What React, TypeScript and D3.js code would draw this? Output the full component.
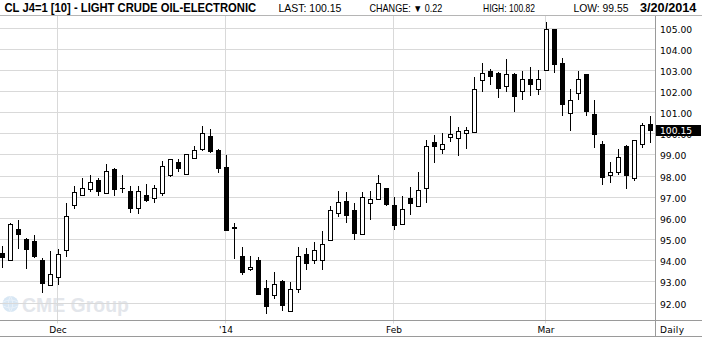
import React, { useLayoutEffect, useRef, useState } from "react";
import * as d3 from "d3";

// ---- data ----
const dates: string[] = [
  "2013-11-20","2013-11-21","2013-11-22","2013-11-25","2013-11-26","2013-11-27","2013-11-29",
  "2013-12-02","2013-12-03","2013-12-04","2013-12-05","2013-12-06","2013-12-09","2013-12-10",
  "2013-12-11","2013-12-12","2013-12-13","2013-12-16","2013-12-17","2013-12-18","2013-12-19",
  "2013-12-20","2013-12-23","2013-12-24","2013-12-26","2013-12-27","2013-12-30","2013-12-31",
  "2014-01-02","2014-01-03","2014-01-06","2014-01-07","2014-01-08","2014-01-09","2014-01-10",
  "2014-01-13","2014-01-14","2014-01-15","2014-01-16","2014-01-17","2014-01-21","2014-01-22",
  "2014-01-23","2014-01-24","2014-01-27","2014-01-28","2014-01-29","2014-01-30","2014-01-31",
  "2014-02-03","2014-02-04","2014-02-05","2014-02-06","2014-02-07","2014-02-10","2014-02-11",
  "2014-02-12","2014-02-13","2014-02-14","2014-02-18","2014-02-19","2014-02-20","2014-02-21",
  "2014-02-24","2014-02-25","2014-02-26","2014-02-27","2014-02-28","2014-03-03","2014-03-04",
  "2014-03-05","2014-03-06","2014-03-07","2014-03-10","2014-03-11","2014-03-12","2014-03-13",
  "2014-03-14","2014-03-17","2014-03-18","2014-03-19","2014-03-20",
];

const opens: number[] = [
  94.34,94.01,95.48,95.02,94.91,94.01,92.84,
  93.22,94.50,96.62,97.09,97.38,97.80,97.19,
  98.33,97.43,97.26,96.48,97.10,96.96,97.19,
  98.05,98.62,98.09,98.85,99.28,99.85,99.23,
  98.41,95.55,94.21,93.58,94.02,92.70,92.37,
  93.03,91.62,92.65,94.31,94.02,94.02,94.97,
  96.24,96.81,96.39,95.24,96.68,96.87,97.40,
  96.63,95.72,96.93,96.58,97.39,99.61,99.28,
  99.83,99.80,100.00,100.06,102.54,102.92,102.87,
  102.25,102.82,102.00,102.58,102.11,102.97,104.92,
  103.34,100.98,101.92,102.78,100.93,99.47,98.05,
  98.19,99.42,97.90,99.47,100.42,
];
const highs: number[] = [
  94.69,95.77,95.88,95.05,95.20,94.12,94.45,
  94.55,96.68,97.50,97.90,98.04,97.90,98.55,
  98.35,98.02,97.49,97.49,97.59,97.54,98.68,
  98.78,98.78,99.02,99.39,100.34,100.18,99.28,
  98.97,95.77,94.64,94.21,94.16,93.05,93.46,
  93.05,92.97,94.64,94.59,94.84,95.36,96.58,
  97.29,97.20,96.72,97.20,97.27,98.03,97.42,
  97.00,97.03,97.45,98.17,99.67,99.91,100.00,
  100.80,100.28,100.28,102.68,103.30,103.06,102.90,
  103.50,102.84,102.93,103.12,102.98,105.27,104.95,
  103.56,102.08,102.95,102.82,101.55,99.62,98.64,
  99.28,99.44,99.70,100.50,100.82,
];
const lows: number[] = [
  93.62,93.96,94.53,93.59,94.11,92.43,92.80,
  92.84,94.14,96.41,97.07,97.22,97.03,97.17,
  97.03,97.17,96.23,96.20,96.75,96.72,97.03,
  97.94,98.17,98.07,98.81,99.17,99.08,98.13,
  95.42,94.06,93.30,93.49,92.36,91.46,92.17,
  91.60,91.60,92.45,93.53,93.82,93.53,94.95,
  96.03,95.75,94.95,95.22,95.92,96.85,96.57,
  95.42,95.64,96.13,96.56,96.71,98.61,99.03,
  99.61,98.94,99.25,100.02,101.94,102.29,101.67,
  101.94,101.00,101.58,101.76,101.83,102.95,102.86,
  100.81,100.09,101.56,100.81,99.31,97.54,97.66,
  98.05,97.37,97.75,99.31,99.55,
];
const closes: number[] = [
  94.15,95.72,95.24,94.53,94.19,92.92,93.35,
  94.30,96.10,97.24,97.42,97.71,97.27,98.23,
  97.36,97.41,96.47,97.29,96.86,97.43,98.43,
  98.76,98.38,99.00,99.23,100.00,99.17,98.38,
  95.45,95.50,93.44,93.69,92.39,91.85,92.89,
  91.88,92.65,94.21,93.87,94.46,94.78,96.38,
  96.76,96.13,95.30,96.97,96.87,97.67,96.66,
  95.68,96.44,96.71,97.34,99.38,99.41,99.47,
  99.95,100.09,100.14,102.09,102.87,102.73,102.16,
  102.82,101.76,102.58,102.35,102.58,104.95,103.28,
  101.39,101.55,102.58,101.06,99.97,97.94,98.19,
  98.90,98.03,99.70,100.37,100.15,
];

const priceTicks: number[] = [92, 93, 94, 95, 96, 97, 98, 99, 100, 101, 102, 103, 104, 105];
const monthTickDates: string[] = ["2013-12-02", "2014-01-02", "2014-02-03", "2014-03-03"];
const monthTickLabels: string[] = ["Dec", "'14", "Feb", "Mar"];

const titleText = "CL J4=1 [10] - LIGHT CRUDE OIL-ELECTRONIC";
const lastValue = 100.15;
const changeValue = 0.22;
const highValue = 100.82;
const lowValue = 99.55;
const dateText = "3/20/2014";

// ---- layout ----
const W = 702;
const H = 337;
const plotTop = 16;
const plotBottom = 320.5;
const axisX = 655.5;

// Text squeezed horizontally to a target width (keeps the real bbox tight)
function FitText(props: {
  x: number;
  y: number;
  width: number;
  fontFamily: string;
  fontSize: number;
  fontWeight?: string;
  fill?: string;
  children: string;
}) {
  const ref = useRef<SVGTextElement>(null);
  const [sx, setSx] = useState(1);
  useLayoutEffect(() => {
    if (ref.current) {
      const w = ref.current.getComputedTextLength();
      if (w > 0) setSx(props.width / w);
    }
  }, [props.width, props.children]);
  return (
    <text
      ref={ref}
      transform={`translate(${props.x},${props.y}) scale(${sx},1)`}
      fontFamily={props.fontFamily}
      fontSize={props.fontSize}
      fontWeight={props.fontWeight || "normal"}
      fill={props.fill || "#000"}
    >
      {props.children}
    </text>
  );
}

export default function App() {
  const x = d3.scalePoint<string>().domain(dates).range([2, 650]).padding(0);
  const y = d3.scaleLinear().domain([92, 105]).range([302.5, 27.5]);

  const candles = dates.map((d, i) => ({
    d,
    o: opens[i],
    h: highs[i],
    l: lows[i],
    c: closes[i],
  }));

  const grid = "#d9d9d9";
  const axisCol = "#9a9a9a";
  const sans = "'Liberation Sans', Arial, sans-serif";
  const narrow = "'Liberation Sans Narrow', 'Arial Narrow', 'Liberation Sans', Arial, sans-serif";
  const axisFont = "'DejaVu Sans', Verdana, sans-serif";

  const lastY = Math.round(y(lastValue));

  return (
    <svg
      width={W}
      height={H}
      style={{ position: "absolute", left: 0, top: 0, background: "#fff" }}
    >
      <rect x={0} y={0} width={W} height={H} fill="#fff" />

      {/* watermark */}
      <g>
        <circle cx={10.5} cy={304} r={8} fill="#d8e7f4" />
        <path
          d="M3,302 Q10.5,298 18,302 M3,306 Q10.5,310 18,306 M10.5,296 Q6,304 10.5,312 M10.5,296 Q15,304 10.5,312"
          stroke="#e9f1f9"
          strokeWidth={1}
          fill="none"
        />
        <FitText x={22} y={312} width={107} fontFamily={sans} fontWeight="bold" fontSize={20} fill="#e3e6eb">
          CME Group
        </FitText>
      </g>

      {/* horizontal gridlines */}
      {priceTicks.map((p) => (
        <line
          key={"h" + p}
          x1={0}
          x2={axisX}
          y1={Math.round(y(p)) + 0.5}
          y2={Math.round(y(p)) + 0.5}
          stroke={grid}
          strokeWidth={1}
        />
      ))}

      {/* vertical month gridlines */}
      {monthTickDates.map((d) => (
        <line
          key={"v" + d}
          x1={Math.round(x(d)!) - 0.5}
          x2={Math.round(x(d)!) - 0.5}
          y1={plotTop}
          y2={plotBottom + 3}
          stroke={grid}
          strokeWidth={1}
        />
      ))}

      {/* candles */}
      {candles.map((k) => {
        const cx = Math.round(x(k.d)!);
        const yTop = Math.round(y(Math.max(k.o, k.c)));
        const yBot = Math.round(y(Math.min(k.o, k.c)));
        const up = k.c >= k.o;
        return (
          <g key={k.d}>
            <line
              x1={cx + 0.5}
              x2={cx + 0.5}
              y1={Math.round(y(k.h))}
              y2={Math.round(y(k.l))}
              stroke="#000"
              strokeWidth={1}
            />
            <rect
              x={cx - 1.5}
              y={yTop + 0.5}
              width={4}
              height={Math.max(yBot - yTop, 0.01)}
              fill={up ? "#fff" : "#000"}
              stroke="#000"
              strokeWidth={1}
            />
          </g>
        );
      })}

      {/* header */}
      <line x1={0} x2={W} y1={15.5} y2={15.5} stroke="#b5b5b5" strokeWidth={1} />
      <FitText x={4.5} y={12} width={252} fontFamily={narrow} fontWeight="bold" fontSize={13}>
        {titleText}
      </FitText>
      <FitText x={278.5} y={11.5} width={63} fontFamily={sans} fontSize={10}>
        {"LAST: " + lastValue.toFixed(2)}
      </FitText>
      <FitText x={369.5} y={11.5} width={73} fontFamily={sans} fontSize={10}>
        {"CHANGE: \u25BC " + changeValue.toFixed(2)}
      </FitText>
      <FitText x={483} y={11.5} width={52} fontFamily={sans} fontSize={10}>
        {"HIGH: " + highValue.toFixed(2)}
      </FitText>
      <FitText x={573.5} y={11.5} width={55} fontFamily={sans} fontSize={10}>
        {"LOW: " + lowValue.toFixed(2)}
      </FitText>
      <FitText x={640} y={12} width={56.5} fontFamily={narrow} fontWeight="bold" fontSize={13}>
        {dateText}
      </FitText>

      {/* axes frame */}
      <line x1={axisX} x2={axisX} y1={plotTop} y2={H} stroke={axisCol} strokeWidth={1} />
      <line x1={0} x2={W} y1={plotBottom} y2={plotBottom} stroke={axisCol} strokeWidth={1} />
      <line x1={0} x2={W} y1={336.5} y2={336.5} stroke={axisCol} strokeWidth={1} />

      {/* price axis labels (100.00 sits behind the last-price box, as in the original) */}
      {priceTicks.map((p) => (
        <text
          key={"t" + p}
          x={660}
          y={Math.round(y(p)) + 5}
          fontFamily={axisFont}
          fontSize={9.2}
          fill="#000"
        >
          {p.toFixed(2)}
        </text>
      ))}

      {/* last price box */}
      <rect x={656} y={lastY - 5} width={45} height={11} fill="#000" />
      <text x={660} y={lastY + 4.3} fontFamily={axisFont} fontSize={9.2} fill="#fff">
        {lastValue.toFixed(2)}
      </text>

      {/* month labels */}
      {monthTickDates.map((d, i) => (
        <text
          key={"m" + d}
          x={Math.round(x(d)!)}
          y={333}
          textAnchor="middle"
          fontFamily={axisFont}
          fontSize={9}
          fill="#000"
        >
          {monthTickLabels[i]}
        </text>
      ))}
      <text x={660} y={333} fontFamily={axisFont} fontSize={9} letterSpacing={0.3} fill="#000">
        Daily
      </text>
    </svg>
  );
}
